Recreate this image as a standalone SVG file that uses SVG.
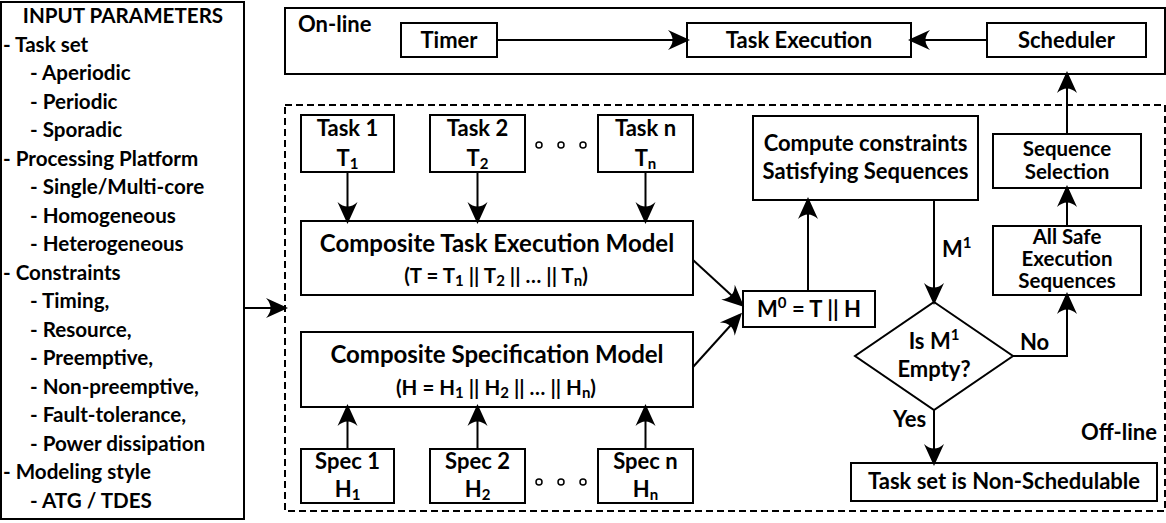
<svg xmlns="http://www.w3.org/2000/svg" width="1166" height="523" viewBox="0 0 1166 523">
<style>
  text { font-family: Lato, "Liberation Sans", sans-serif; font-weight: bold; fill: #000; }
  .box { fill: #fff; stroke: #000; stroke-width: 2; }
  .dash { fill: none; stroke: #000; stroke-width: 2; stroke-dasharray: 7 4; }
  .c { text-anchor: middle; }
  .lp { font-size: 20.6px; }
  .n { font-size: 22px; }
  .tight { font-size: 20.5px; }
  .big { font-size: 24px; }
  .sub { font-size: 20.5px; }
  .conn line, .conn polyline { fill: none; stroke: #000; stroke-width: 2; marker-end: url(#ah); }
  .dot { fill: #fff; stroke: #000; stroke-width: 1.5; }
</style>
<defs>
  <marker id="ah" markerUnits="userSpaceOnUse" viewBox="-24 -11 25 22" refX="-3" refY="0" markerWidth="25" markerHeight="22" orient="auto">
    <path d="M0,0 L-22,-10 Q-13,0 -22,10 Z" fill="#000"/>
  </marker>
</defs>
<rect width="1166" height="523" fill="#fff"/>

<g id="input-params">
  <rect class="box" x="1" y="2" width="243" height="517"/>
  <text class="lp c" x="123" y="23">INPUT PARAMETERS</text>
  <text class="lp" x="3" y="51.5">- Task set</text>
  <text class="lp" x="30" y="80">- Aperiodic</text>
  <text class="lp" x="30" y="108.5">- Periodic</text>
  <text class="lp" x="30" y="137">- Sporadic</text>
  <text class="lp" x="3" y="165.5">- Processing Platform</text>
  <text class="lp" x="30" y="194">- Single/Multi-core</text>
  <text class="lp" x="30" y="222.5">- Homogeneous</text>
  <text class="lp" x="30" y="251">- Heterogeneous</text>
  <text class="lp" x="3" y="279.5">- Constraints</text>
  <text class="lp" x="30" y="308">- Timing,</text>
  <text class="lp" x="30" y="336.5">- Resource,</text>
  <text class="lp" x="30" y="365">- Preemptive,</text>
  <text class="lp" x="30" y="393.5">- Non-preemptive,</text>
  <text class="lp" x="30" y="422">- Fault-tolerance,</text>
  <text class="lp" x="30" y="450.5">- Power dissipation</text>
  <text class="lp" x="3" y="479">- Modeling style</text>
  <text class="lp" x="30" y="507.5">- ATG / TDES</text>
</g>

<g id="online">
  <rect class="box" x="285" y="8" width="880" height="66"/>
  <text class="n" x="298" y="32">On-line</text>
</g>
<g id="timer">
  <rect class="box" x="401" y="23" width="96" height="34"/>
  <text class="n c" x="449" y="48">Timer</text>
</g>
<g id="task-execution">
  <rect class="box" x="687" y="23" width="224" height="34"/>
  <text class="n c" x="799" y="48">Task Execution</text>
</g>
<g id="scheduler">
  <rect class="box" x="987" y="23" width="159" height="34"/>
  <text class="n c" x="1066.5" y="48">Scheduler</text>
</g>

<g id="offline">
  <rect class="dash" x="285" y="105" width="880" height="406"/>
  <text class="n" x="1081" y="440">Off-line</text>
</g>

<g id="task1">
  <rect class="box" x="301" y="115" width="93" height="57"/>
  <text class="n c" x="347.5" y="136">Task 1</text>
  <text class="n c" x="347.5" y="166">T<tspan font-size="15" dy="3">1</tspan></text>
</g>
<g id="task2">
  <rect class="box" x="430" y="115" width="95" height="57"/>
  <text class="n c" x="477.5" y="136">Task 2</text>
  <text class="n c" x="477.5" y="166">T<tspan font-size="15" dy="3">2</tspan></text>
</g>
<g id="taskn">
  <rect class="box" x="598" y="115" width="95" height="57"/>
  <text class="n c" x="645.5" y="136">Task n</text>
  <text class="n c" x="645.5" y="166">T<tspan font-size="15" dy="3">n</tspan></text>
</g>
<g id="task-dots">
  <circle class="dot" cx="539" cy="145" r="3"/>
  <circle class="dot" cx="561" cy="145" r="3"/>
  <circle class="dot" cx="583" cy="145" r="3"/>
</g>

<g id="composite-task">
  <rect class="box" x="301" y="221" width="392" height="74"/>
  <text class="big c" x="497" y="252">Composite Task Execution Model</text>
  <text class="sub c" x="496" y="283">(T = T<tspan font-size="15" dy="3">1</tspan><tspan dy="-3"> || T</tspan><tspan font-size="15" dy="3">2</tspan><tspan dy="-3"> || … || T</tspan><tspan font-size="15" dy="3">n</tspan><tspan dy="-3">)</tspan></text>
</g>

<g id="composite-spec">
  <rect class="box" x="301" y="332" width="392" height="75"/>
  <text class="big c" x="497" y="363">Composite Specification Model</text>
  <text class="sub c" x="496" y="395">(H = H<tspan font-size="15" dy="3">1</tspan><tspan dy="-3"> || H</tspan><tspan font-size="15" dy="3">2</tspan><tspan dy="-3"> || … || H</tspan><tspan font-size="15" dy="3">n</tspan><tspan dy="-3">)</tspan></text>
</g>

<g id="spec1">
  <rect class="box" x="301" y="449" width="93" height="54"/>
  <text class="n c" x="347.5" y="469">Spec 1</text>
  <text class="n c" x="347.5" y="497">H<tspan font-size="15" dy="3">1</tspan></text>
</g>
<g id="spec2">
  <rect class="box" x="430" y="449" width="95" height="54"/>
  <text class="n c" x="477.5" y="469">Spec 2</text>
  <text class="n c" x="477.5" y="497">H<tspan font-size="15" dy="3">2</tspan></text>
</g>
<g id="specn">
  <rect class="box" x="598" y="449" width="95" height="54"/>
  <text class="n c" x="645.5" y="469">Spec n</text>
  <text class="n c" x="645.5" y="497">H<tspan font-size="15" dy="3">n</tspan></text>
</g>
<g id="spec-dots">
  <circle class="dot" cx="539" cy="482" r="3"/>
  <circle class="dot" cx="561" cy="482" r="3"/>
  <circle class="dot" cx="583" cy="482" r="3"/>
</g>

<g id="m0">
  <rect class="box" x="743" y="291" width="132" height="36"/>
  <text class="n c" x="809" y="317">M<tspan font-size="15" dy="-9">0</tspan><tspan dy="9"> = T || H</tspan></text>
</g>

<g id="compute">
  <rect class="box" x="753" y="116" width="225" height="84"/>
  <text class="n c" x="865.5" y="151">Compute constraints</text>
  <text class="n c" x="865.5" y="179">Satisfying Sequences</text>
</g>

<g id="decision">
  <polygon class="box" points="934,302 1013,356 934,410 855,356"/>
  <text class="n c" x="934" y="349">Is M<tspan font-size="15" dy="-9">1</tspan></text>
  <text class="n c" x="934" y="377">Empty?</text>
</g>

<g id="all-safe">
  <rect class="box" x="993" y="226" width="148" height="69"/>
  <text class="tight c" x="1067" y="244">All Safe</text>
  <text class="tight c" x="1067" y="266">Execution</text>
  <text class="tight c" x="1067" y="288">Sequences</text>
</g>

<g id="sequence-selection">
  <rect class="box" x="993" y="134" width="148" height="54"/>
  <text class="tight c" x="1067" y="156">Sequence</text>
  <text class="tight c" x="1067" y="179">Selection</text>
</g>

<g id="non-schedulable">
  <rect class="box" x="851" y="463" width="306" height="38"/>
  <text class="n c" x="1004" y="489">Task set is Non-Schedulable</text>
</g>

<g id="connectors" class="conn">
  <line x1="497" y1="40" x2="687" y2="40"/>
  <line x1="987" y1="40" x2="911" y2="40"/>
  <line x1="244" y1="308" x2="285" y2="308"/>
  <line x1="347.5" y1="172" x2="347.5" y2="221"/>
  <line x1="477.5" y1="172" x2="477.5" y2="221"/>
  <line x1="645.5" y1="172" x2="645.5" y2="221"/>
  <line x1="347.5" y1="449" x2="347.5" y2="407"/>
  <line x1="477.5" y1="449" x2="477.5" y2="407"/>
  <line x1="645.5" y1="449" x2="645.5" y2="407"/>
  <line x1="693" y1="260" x2="742" y2="305"/>
  <line x1="693" y1="367" x2="740" y2="315"/>
  <line x1="808" y1="291" x2="808" y2="200"/>
  <line x1="934" y1="200" x2="934" y2="302"/>
  <polyline points="1013,356 1067,356 1067,295"/>
  <line x1="1067" y1="226" x2="1067" y2="188"/>
  <line x1="1067" y1="134" x2="1067" y2="74"/>
  <line x1="934" y1="410" x2="934" y2="463"/>
  <text class="n" x="942" y="257">M<tspan font-size="15" dy="-9">1</tspan></text>
  <text class="n" x="1020" y="350">No</text>
  <text class="n" x="893" y="427">Yes</text>
</g>
</svg>
